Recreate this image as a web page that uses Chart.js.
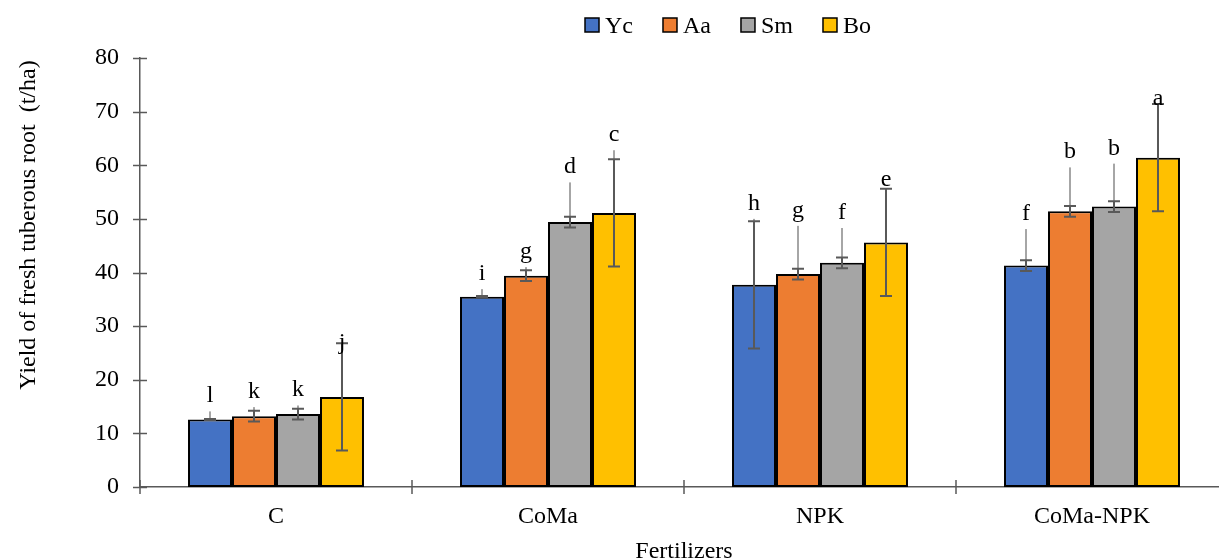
<!DOCTYPE html>
<html>
<head>
<meta charset="utf-8">
<script src="https://cdn.jsdelivr.net/npm/chart.js@4/dist/chart.umd.min.js"></script>
<style>
html,body{margin:0;padding:0;overflow:hidden;background:#fff;}
canvas{display:block;}
</style>
</head>
<body>
<canvas id="c" width="1240" height="560"></canvas>
<script>
// ---- data ----
const categories = ["C", "CoMa", "NPK", "CoMa-NPK"];
const seriesNames = ["Yc", "Aa", "Sm", "Bo"];
const seriesColors = ["#4472C4", "#ED7D31", "#A5A5A5", "#FFC000"];

const ycValues = [12.6, 35.5, 37.7, 41.3];
const aaValues = [13.2, 39.4, 39.7, 51.4];
const smValues = [13.6, 49.4, 41.8, 52.3];
const boValues = [16.8, 51.1, 45.6, 61.4];

const ycSE = [0.1, 0.1, 11.85, 1.0];
const aaSE = [1.0, 1.0, 1.0, 1.0];
const smSE = [1.0, 1.0, 1.0, 1.0];
const boSE = [10.0, 10.0, 10.0, 10.0];

// upper end of light (significance) line
const ycUpper = [14.1, 36.9, 50.0, 48.1];
const aaUpper = [14.9, 41.0, 48.7, 59.6];
const smUpper = [15.2, 56.8, 48.3, 60.3];
const boUpper = [24.0, 62.8, 54.5, 69.6];

const ycLetters = ["l", "i", "h", "f"];
const aaLetters = ["k", "g", "g", "b"];
const smLetters = ["k", "d", "f", "b"];
const boLetters = ["j", "c", "e", "a"];

const yTicks = [0, 10, 20, 30, 40, 50, 60, 70, 80];
const yTitle = "Yield of fresh tuberous root  (t/ha)";
const xTitle = "Fertilizers";

const allValues = [ycValues, aaValues, smValues, boValues];
const allSE = [ycSE, aaSE, smSE, boSE];
const allUpper = [ycUpper, aaUpper, smUpper, boUpper];
const allLetters = [ycLetters, aaLetters, smLetters, boLetters];

const FONT = "'Liberation Serif', 'Times New Roman', serif";

const extras = {
  id: 'extras',
  beforeDraw(chart) {
    const c = chart.ctx;
    c.save();
    c.fillStyle = '#fff';
    c.fillRect(0, 0, chart.width, chart.height);
    c.restore();
  },
  afterDraw(chart) {
    const c = chart.ctx;
    const ys = chart.scales.y;
    const area = chart.chartArea;
    c.save();
    // tick marks crossing axes
    c.strokeStyle = '#595959';
    c.lineWidth = 1.5;
    yTicks.forEach(v => {
      const py = Math.round(ys.getPixelForValue(v)) + 0.5;
      c.beginPath(); c.moveTo(area.left - 7, py); c.lineTo(area.left + 7, py); c.stroke();
    });
    const n = categories.length;
    for (let i = 0; i <= n; i++) {
      const px = area.left + (area.right - area.left) * i / n;
      c.beginPath(); c.moveTo(px, area.bottom - 7); c.lineTo(px, area.bottom + 7); c.stroke();
    }
    // error bars and letters
    chart.data.datasets.forEach((ds, di) => {
      const meta = chart.getDatasetMeta(di);
      meta.data.forEach((el, i) => {
        const v = allValues[di][i], se = allSE[di][i], up = allUpper[di][i];
        const x = el.x;
        c.strokeStyle = '#A6A6A6';
        c.lineWidth = 2;
        c.beginPath();
        c.moveTo(x, ys.getPixelForValue(v));
        c.lineTo(x, ys.getPixelForValue(up));
        c.stroke();
        const yTop = ys.getPixelForValue(v + se), yBot = ys.getPixelForValue(v - se);
        c.strokeStyle = '#595959';
        c.lineWidth = 2;
        c.beginPath();
        c.moveTo(x, yBot); c.lineTo(x, yTop);
        c.moveTo(x - 6, yTop); c.lineTo(x + 6, yTop);
        c.moveTo(x - 6, yBot); c.lineTo(x + 6, yBot);
        c.stroke();
        c.fillStyle = '#000';
        c.font = '24px ' + FONT;
        c.textAlign = 'center';
        c.textBaseline = 'alphabetic';
        c.fillText(allLetters[di][i], x, ys.getPixelForValue(up) - 9);
      });
    });
    // axis titles
    c.fillStyle = '#000';
    c.font = '24px ' + FONT;
    c.textAlign = 'center';
    c.textBaseline = 'alphabetic';
    c.fillText(xTitle, (area.left + area.right) / 2, 558);
    c.save();
    c.translate(35, 225);
    c.rotate(-Math.PI / 2);
    c.fillText(yTitle, 0, 0);
    c.restore();
    // legend
    c.font = '24px ' + FONT;
    const sq = 14, gapTxt = 6, gapItem = 30;
    const widths = seriesNames.map(s => sq + gapTxt + c.measureText(s).width);
    const total = widths.reduce((a, b) => a + b, 0) + gapItem * (seriesNames.length - 1);
    let lx = 728 - total / 2;
    seriesNames.forEach((s, i) => {
      c.fillStyle = seriesColors[i];
      c.fillRect(lx, 18, sq, sq);
      c.strokeStyle = '#000';
      c.lineWidth = 1.5;
      c.strokeRect(lx, 18, sq, sq);
      c.fillStyle = '#000';
      c.textAlign = 'left';
      c.fillText(s, lx + sq + gapTxt, 32.5);
      lx += widths[i] + gapItem;
    });
    c.restore();
  }
};

new Chart(document.getElementById('c'), {
  type: 'bar',
  data: {
    labels: categories,
    datasets: seriesNames.map((name, i) => ({
      label: name,
      data: allValues[i],
      backgroundColor: seriesColors[i],
      borderColor: '#000',
      borderWidth: 2,
      borderSkipped: false,
      categoryPercentage: 0.647,
      barPercentage: 1.0
    }))
  },
  options: {
    responsive: false,
    animation: false,
    devicePixelRatio: 1,
    layout: { padding: { top: 58, right: 12, left: 0, bottom: 0 } },
    plugins: { legend: { display: false }, tooltip: { enabled: false } },
    scales: {
      x: {
        grid: { display: false },
        border: { display: true, color: '#595959', width: 1.5 },
        ticks: { color: '#000', font: { family: FONT, size: 24 }, padding: 7, maxRotation: 0 },
        afterFit(scale) { scale.height = 73; }
      },
      y: {
        min: 0, max: 80,
        grid: { display: false },
        border: { display: true, color: '#595959', width: 1.5 },
        ticks: { stepSize: 10, color: '#000', font: { family: FONT, size: 24 }, padding: 13 },
        afterFit(scale) { scale.width = 140; }
      }
    }
  },
  plugins: [extras]
});
</script>
</body>
</html>
